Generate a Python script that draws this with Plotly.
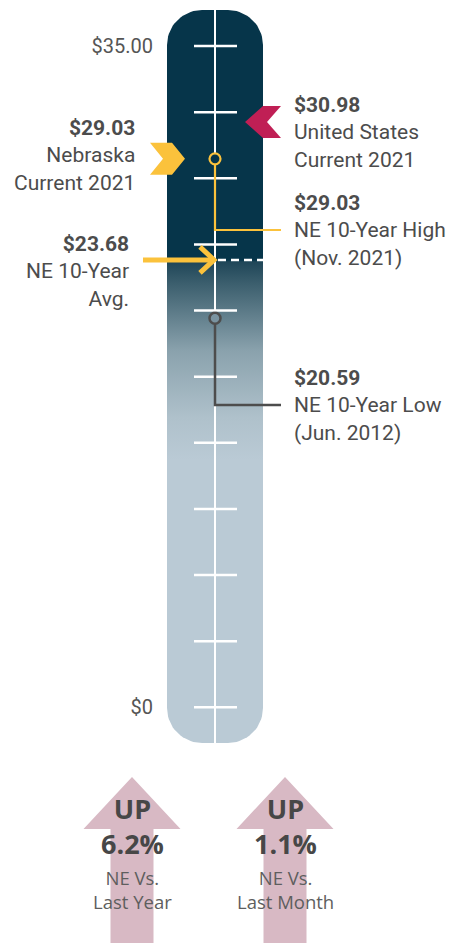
import numpy as np
import plotly.graph_objects as go

# ---------------- data ----------------
SCALE_TICKS = [0, 3.5, 7, 10.5, 14, 17.5, 21, 24.5, 28, 31.5, 35]
AXIS_LABEL_VALUES = [0, 35]
AXIS_LABELS = ["$0", "$35.00"]
NE_CURRENT = 29.03
US_CURRENT = 30.98
NE_HIGH = 29.03
NE_AVG = 23.68
NE_LOW = 20.59
CHANGE_VALUES = [6.2, 1.1]
CHANGE_LABELS = ["NE Vs.<br>Last Year", "NE Vs.<br>Last Month"]

# ---------------- layout helpers (pixel geometry) ----------------
W, H = 451, 943
Y0_PX = 707.3                       # pixel row of $0
PPU = (707.3 - 46.0) / 35.0         # pixels per dollar


def v(px):
    """pixel row -> axis value"""
    return (Y0_PX - px) / PPU


def p(val):
    """axis value -> pixel row"""
    return Y0_PX - val * PPU


NAVY = "#06354A"
LIGHT = "#BACAD5"
YELLOW = "#FBC23C"
CRIMSON = "#C01F55"
GREY = "#4D4D4D"
TEXT = "#4C4C4C"
PINK = "#D8B9C4"

fig = go.Figure()

# ---- thermometer body (rounded rectangle with gradient) ----
x0, x1, top, bot, r = 167, 263, 10, 743, 35
pts = []
for cx, cy, a0, a1 in [(x0 + r, top + r, np.pi, np.pi / 2),
                       (x1 - r, top + r, np.pi / 2, 0),
                       (x1 - r, bot - r, 0, -np.pi / 2),
                       (x0 + r, bot - r, -np.pi / 2, -np.pi)]:
    for t in np.linspace(a0, a1, 20):
        pts.append((cx + r * np.cos(t), cy - r * np.sin(t)))
pts.append(pts[0])
bx = [q[0] for q in pts]
by = [v(q[1]) for q in pts]
avg_px = p(NE_AVG)
fig.add_trace(go.Scatter(
    x=bx, y=by, mode="lines", fill="toself", line=dict(width=0),
    fillgradient=dict(
        type="vertical",
        start=v(avg_px + 200), stop=NE_AVG,
        colorscale=[[0.0, LIGHT], [0.21, "#AFC1CB"], [0.545, "#8AA2AD"],
                    [0.88, "#3C5F6E"], [0.99, "#1F4658"], [1.0, NAVY]]),
    hoverinfo="skip", showlegend=False))

# ---- center line ----
fig.add_trace(go.Scatter(x=[215, 215], y=[v(top), v(bot)], mode="lines",
                         line=dict(color="white", width=2),
                         hoverinfo="skip", showlegend=False))

# ---- scale ticks ----
tx, ty = [], []
for t in SCALE_TICKS:
    tx += [194, 237, None]
    ty += [t, t, None]
fig.add_trace(go.Scatter(x=tx, y=ty, mode="lines",
                         line=dict(color="white", width=2.5),
                         hoverinfo="skip", showlegend=False))

# ---- average dashed line ----
fig.add_trace(go.Scatter(x=[218, 263], y=[NE_AVG, NE_AVG], mode="lines",
                         line=dict(color="white", width=2.5, dash="8px,5px"),
                         hoverinfo="skip", showlegend=False))

# ---- leader lines ----
fig.add_trace(go.Scatter(x=[215, 215, 281], y=[NE_HIGH, v(230), v(230)],
                         mode="lines", line=dict(color=YELLOW, width=2.2),
                         hoverinfo="skip", showlegend=False))
fig.add_trace(go.Scatter(x=[215, 215, 281], y=[NE_LOW, v(405), v(405)],
                         mode="lines", line=dict(color=GREY, width=2.5),
                         hoverinfo="skip", showlegend=False))

# ---- circles ----
fig.add_trace(go.Scatter(x=[215], y=[NE_HIGH], mode="markers",
                         marker=dict(size=11, color=NAVY,
                                     line=dict(color=YELLOW, width=2.2)),
                         hoverinfo="skip", showlegend=False))
fig.add_trace(go.Scatter(x=[215], y=[NE_LOW], mode="markers",
                         marker=dict(size=11, color="#7A93A0",
                                     line=dict(color=GREY, width=2.5)),
                         hoverinfo="skip", showlegend=False))

# ---- Nebraska chevron (pointing right) ----
c = p(NE_CURRENT)
chev = [(150, c - 16), (172, c - 16), (185, c), (172, c + 16), (150, c + 16), (163, c), (150, c - 16)]
fig.add_trace(go.Scatter(x=[q[0] for q in chev], y=[v(q[1]) for q in chev],
                         mode="lines", fill="toself", fillcolor=YELLOW,
                         line=dict(width=0), hoverinfo="skip", showlegend=False))

# ---- US chevron (pointing left) ----
c = p(US_CURRENT)
chev = [(245, c), (263, c - 16), (281, c - 16), (267, c), (281, c + 16), (263, c + 16), (245, c)]
fig.add_trace(go.Scatter(x=[q[0] for q in chev], y=[v(q[1]) for q in chev],
                         mode="lines", fill="toself", fillcolor=CRIMSON,
                         line=dict(width=0), hoverinfo="skip", showlegend=False))

# ---- average arrow ----
c = p(NE_AVG)
fig.add_trace(go.Scatter(x=[143, 212], y=[NE_AVG, NE_AVG], mode="lines",
                         line=dict(color=YELLOW, width=5),
                         hoverinfo="skip", showlegend=False))
fig.add_trace(go.Scatter(x=[200, 214, 200], y=[v(c - 13), NE_AVG, v(c + 13)], mode="lines",
                         line=dict(color=YELLOW, width=5),
                         hoverinfo="skip", showlegend=False))

# ---- bottom arrows ----
ARROW_X = [132, 285]
for ax_ in ARROW_X:
    poly = [(ax_, 777), (ax_ + 48.5, 829), (ax_ + 21.5, 829), (ax_ + 21.5, 950),
            (ax_ - 21.5, 950), (ax_ - 21.5, 829), (ax_ - 48.5, 829), (ax_, 777)]
    fig.add_trace(go.Scatter(x=[q[0] for q in poly], y=[v(q[1]) for q in poly],
                             mode="lines", fill="toself", fillcolor=PINK,
                             line=dict(width=0), hoverinfo="skip", showlegend=False))

# ---- annotations ----
label_font = dict(family="Roboto", size=21, color=TEXT)
blocks = [
    (137, 155.5, "right", f"<b>${NE_CURRENT:.2f}</b><br>Nebraska<br>Current 2021"),
    (292, 132, "left", f"<b>${US_CURRENT:.2f}</b><br>United States<br>Current 2021"),
    (292, 230, "left", f"<b>${NE_HIGH:.2f}</b><br>NE 10-Year High<br>(Nov. 2021)"),
    (131, 271, "right", f"<b>${NE_AVG:.2f}</b><br>NE 10-Year<br>Avg."),
    (292, 405.7, "left", f"<b>${NE_LOW:.2f}</b><br>NE 10-Year Low<br>(Jun. 2012)"),
]
annotations = []
for xp, yp, side, txt in blocks:
    annotations.append(dict(x=xp, y=v(yp), xref="x", yref="y", text=txt,
                            showarrow=False, xanchor=side, yanchor="middle",
                            align=side, font=label_font))

for ax_, val, lab in zip(ARROW_X, CHANGE_VALUES, CHANGE_LABELS):
    annotations.append(dict(x=ax_, y=v(825.5), xref="x", yref="y",
                            text=f"<b>UP<br>{val}%</b>", showarrow=False,
                            xanchor="center", yanchor="middle", align="center",
                            font=dict(family="Open Sans", size=27, color="#474747")))
    annotations.append(dict(x=ax_, y=v(889.5), xref="x", yref="y",
                            text=lab, showarrow=False,
                            xanchor="center", yanchor="middle", align="center",
                            font=dict(family="Open Sans", size=18.5, color="#5E5E5E")))

fig.update_layout(
    width=W, height=H,
    margin=dict(l=0, r=0, t=0, b=0),
    paper_bgcolor="white", plot_bgcolor="white",
    showlegend=False,
    xaxis=dict(range=[0, W], visible=False, fixedrange=True),
    yaxis=dict(range=[v(H), v(0)], anchor="free", position=x0 / W,
               tickvals=AXIS_LABEL_VALUES, ticktext=AXIS_LABELS,
               showgrid=False, zeroline=False, showline=False, ticks="",
               ticklabelstandoff=14,
               tickfont=dict(family="Roboto", size=20, color="#555555"),
               fixedrange=True),
    annotations=annotations,
)

fig.write_html("out.html", config=dict(displayModeBar=False),
               post_script="document.body.style.margin='0';document.body.style.overflow='hidden';")
